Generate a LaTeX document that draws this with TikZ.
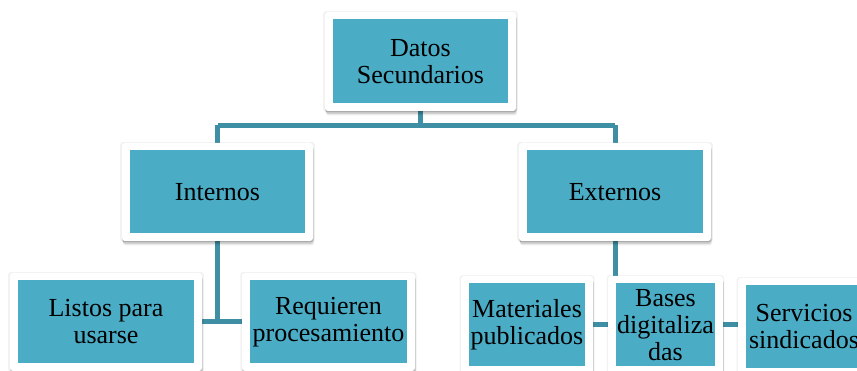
\documentclass[tikz,border=0pt]{standalone}
\usepackage{fontspec}
\setmainfont{Liberation Serif}
\usetikzlibrary{shadows}
\pgfdeclarelayer{background}
\pgfdeclarelayer{paper}
\pgfsetlayers{paper,background,main}
\definecolor{boxfill}{RGB}{75,172,198}
\definecolor{linkcol}{RGB}{62,142,164}
\tikzset{
  box/.style={shape=rectangle, fill=white, rounded corners=3pt,
    drop shadow={shadow xshift=0pt, shadow yshift=0pt, shadow scale=1.02, opacity=0.05, fill=black},
    drop shadow={shadow xshift=0pt, shadow yshift=-1.5pt, opacity=0.13, fill=black},
    drop shadow={shadow xshift=0.5pt, shadow yshift=-3pt, opacity=0.11, fill=black},
    drop shadow={shadow xshift=1pt, shadow yshift=-4.5pt, opacity=0.08, fill=black},
    path picture={\fill[boxfill, sharp corners] ([shift={(8pt,-7.5pt)}]path picture bounding box.north west) rectangle ([shift={(-8pt,7.5pt)}]path picture bounding box.south east);},
    align=center, inner sep=0pt, text=black,
    font=\rmfamily\fontsize{26pt}{27pt}\selectfont},
  link/.style={draw=linkcol, line width=5pt}
}
\begin{document}
\begin{tikzpicture}[x=1pt,y=-1pt]
\useasboundingbox (0,0) rectangle (857,371);
\begin{pgfonlayer}{paper}
\fill[white] (0,0) rectangle (857,371);
\end{pgfonlayer}
\clip (0,0) rectangle (857,371);
\node[box, minimum width=191pt, minimum height=99pt] (top) at (420.5,61.5) {Datos\\Secundarios};
\node[box, minimum width=191pt, minimum height=98pt] (int) at (217.5,192) {Internos};
\node[box, minimum width=192pt, minimum height=98pt] (ext) at (615,192) {Externos};
\node[box, minimum width=192pt, minimum height=98pt] (lst) at (106,322) {Listos para\\usarse};
\node[box, minimum width=173pt, minimum height=98pt] (req) at (328.5,322) {Requieren\\procesamiento};
\node[box, minimum width=132pt, minimum height=98pt] (mat) at (527,325) {Materiales\\publicados};
\node[box, minimum width=115pt, minimum height=98pt] (bas) at (665.5,325) {Bases\\digitaliza\\das};
\node[box, minimum width=132pt, minimum height=98pt] (ser) at (804,327) {Servicios\\sindicados};
\coordinate (hbar) at (0,125.5);
\begin{pgfonlayer}{background}
\draw[link] (top.south) -- (top.south |- hbar);
\draw[link] (int.north |- hbar) -- (ext.north |- hbar);
\draw[link] (int.north |- hbar) -- (int.north);
\draw[link] (ext.north |- hbar) -- (ext.north);
\draw[link] (int.south) -- (int.south |- lst.east);
\draw[link] (lst.east) -- (req.west);
\draw[link] (ext.south) -- (ext.south |- mat.east);
\draw[link] (mat.east) -- (ser.west |- mat.east);
\end{pgfonlayer}
\end{tikzpicture}
\end{document}
